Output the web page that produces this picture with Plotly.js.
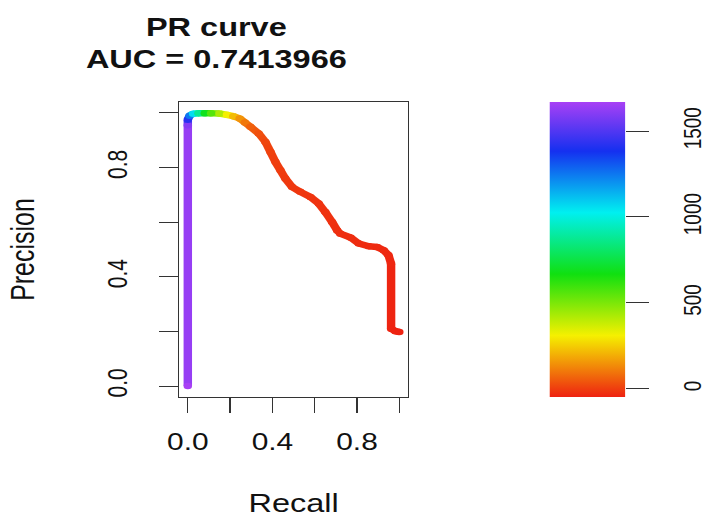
<!DOCTYPE html>
<html><head><meta charset="utf-8">
<script src="https://cdn.plot.ly/plotly-3.0.1.min.js"></script>
<style>
html,body{margin:0;padding:0;overflow:hidden;background:#fff;width:707px;height:518px}
#wrap{width:544px;height:518px;overflow:hidden;transform:scaleX(1.2996);transform-origin:0 0;}
</style></head>
<body><div id="wrap"><div id="chart" style="width:544px;height:530px"></div></div>
<script>
// PR curve points (recall, precision, threshold score)
const recall = [0.000, 0.000, 0.000, 0.008, 0.025, 0.050, 0.080, 0.110, 0.150, 0.185, 0.215, 0.245, 0.270, 0.296, 0.335, 0.367, 0.391, 0.414, 0.438, 0.461, 0.493, 0.532, 0.580, 0.619, 0.650, 0.682, 0.706, 0.721, 0.769, 0.808, 0.855, 0.895, 0.926, 0.949, 0.961, 0.961, 0.981, 1.000];
const precision = [0.000, 0.955, 0.975, 0.990, 0.997, 0.999, 0.999, 0.999, 0.998, 0.993, 0.988, 0.980, 0.965, 0.949, 0.925, 0.894, 0.857, 0.821, 0.790, 0.760, 0.729, 0.711, 0.692, 0.668, 0.637, 0.601, 0.570, 0.558, 0.544, 0.522, 0.512, 0.509, 0.497, 0.479, 0.448, 0.210, 0.201, 0.198];
const threshold = [1669, 1600, 1420, 1250, 1060, 880, 690, 560, 420, 310, 220, 150, 100, 60, 30, 15, 5, 0, -3, -6, -9, -12, -15, -18, -20, -22, -24, -26, -28, -30, -32, -34, -36, -38, -40, -44, -46, -48];

const axisTickVals = [0, 0.2, 0.4, 0.6, 0.8, 1.0];
const axisTickText = ['0.0', '', '0.4', '', '0.8', ''];
const cbTickVals = [0, 500, 1000, 1500];
const cbTickText = ['0', '500', '1000', '1500'];
const cbRange = [-48, 1669];
const titleText = 'PR curve<br>AUC = 0.7413966';
const xTitle = 'Recall';
const yTitle = 'Precision';

const rainbow = [[0, '#EE2211'], [0.2083, '#F5F000'], [0.4167, '#10E010'], [0.625, '#00F0F0'], [0.8333, '#1530F0'], [1, '#A840F5']];

function hexToRgb(h) { return [parseInt(h.slice(1,3),16), parseInt(h.slice(3,5),16), parseInt(h.slice(5,7),16)]; }
function colorAt(v) {
  let f = (v - cbRange[0]) / (cbRange[1] - cbRange[0]);
  f = Math.max(0, Math.min(1, f));
  for (let i = 0; i < rainbow.length - 1; i++) {
    const a = rainbow[i], b = rainbow[i+1];
    if (f <= b[0]) {
      const t = (f - a[0]) / (b[0] - a[0]);
      const ca = hexToRgb(a[1]), cb = hexToRgb(b[1]);
      const c = ca.map((x, k) => Math.round(x + (cb[k] - x) * t));
      return 'rgb(' + c.join(',') + ')';
    }
  }
  return rainbow[rainbow.length-1][1];
}

const LW = 6.5;
const traces = [];
for (let i = 0; i < recall.length - 1; i++) {
  traces.push({
    x: [recall[i], recall[i+1]], y: [precision[i], precision[i+1]],
    mode: 'lines', line: {color: colorAt((threshold[i] + threshold[i+1]) / 2), width: LW},
    hoverinfo: 'skip', showlegend: false
  });
}
traces.push({
  x: recall, y: precision, mode: 'markers', showlegend: false,
  marker: {
    size: LW, color: threshold, colorscale: rainbow, cmin: cbRange[0], cmax: cbRange[1],
    line: {width: 0}, showscale: true,
    colorbar: {
      thickness: 57.7, thicknessmode: 'pixels', len: 1, lenmode: 'fraction',
      x: 0.7205, xanchor: 'left', xpad: 0, y: 0.5, yanchor: 'middle', ypad: 0,
      outlinewidth: 0, ticks: '', showticklabels: false
    }
  }
});
// carrier for the colour-key axis
traces.push({x: [0], y: [0], xaxis: 'x', yaxis: 'y2', mode: 'markers', marker: {opacity: 0}, hoverinfo: 'skip', showlegend: false});

const FONT = 'Liberation Sans, Arial, Helvetica, sans-serif';
const layout = {
  width: 544, height: 530,
  margin: {l: 137.5, r: 10, t: 101.8, b: 133.4, pad: 0},
  paper_bgcolor: '#fff', plot_bgcolor: '#fff', showlegend: false,
  font: {family: FONT, color: '#111'},
  title: {text: titleText, font: {size: 25, family: FONT, weight: 'bold', color: '#111'},
          x: 0.306, xref: 'container', xanchor: 'center', y: 0.9325, yref: 'container', yanchor: 'middle'},
  xaxis: {
    domain: [0, 0.4439], range: [-0.04, 1.04], tickvals: axisTickVals, ticktext: axisTickText,
    ticks: 'outside', ticklen: 15, tickwidth: 1, tickcolor: '#333', tickfont: {size: 23},
    ticklabelstandoff: 9,
    showline: true, mirror: true, linecolor: '#333', linewidth: 1, showgrid: false, zeroline: false,
    automargin: true, title: {text: xTitle, font: {size: 25}, standoff: 40}
  },
  yaxis: {
    domain: [0, 1], range: [-0.04, 1.04], tickvals: axisTickVals, ticktext: axisTickText,
    ticks: 'outside', ticklen: 15, tickwidth: 1, tickcolor: '#333', tickfont: {size: 21}, tickangle: -90,
    ticklabelstandoff: 16,
    showline: true, mirror: true, linecolor: '#333', linewidth: 1, showgrid: false, zeroline: false,
    automargin: true, title: {text: yTitle, font: {size: 25}, standoff: 44}
  },
  yaxis2: {
    overlaying: 'y', anchor: 'free', position: 0.866, side: 'right', range: cbRange,
    tickvals: cbTickVals, ticktext: cbTickText, ticks: 'outside', ticklen: 17.5, tickwidth: 1, tickcolor: '#333',
    tickangle: -90, tickfont: {size: 19}, ticklabelstandoff: 17,
    showline: false, showgrid: false, zeroline: false
  }
};
Plotly.newPlot('chart', traces, layout, {displayModeBar: false, staticPlot: true});
</script></body></html>
